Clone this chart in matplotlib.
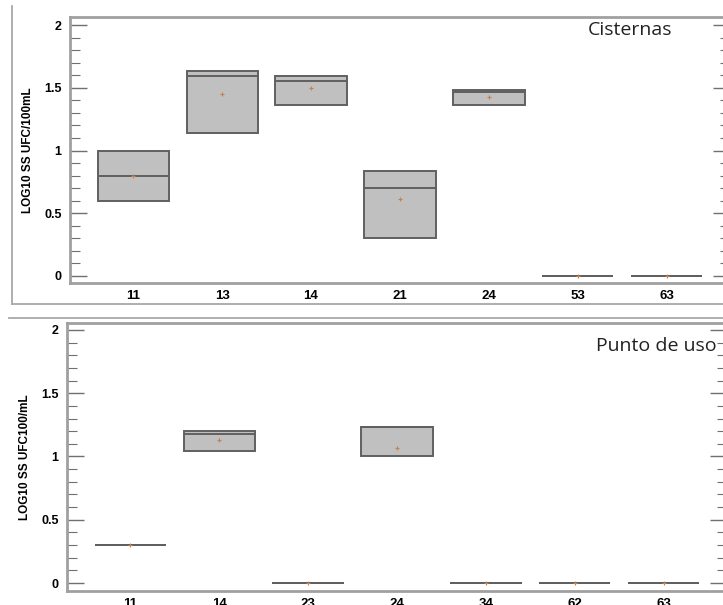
"""Two stacked box panels: LOG10 SS counts per site, Cisternas vs Punto de uso."""
import matplotlib
matplotlib.use('Agg')
import matplotlib.pyplot as plt
from matplotlib.lines import Line2D
from matplotlib.ticker import MultipleLocator, FuncFormatter

# --- data ---
top_labels = ['11', '13', '14', '21', '24', '53', '63']
top_q1 = [0.60, 1.14, 1.36, 0.30, 1.36, 0.0, 0.0]
top_q3 = [1.00, 1.63, 1.59, 0.84, 1.48, 0.0, 0.0]
top_med = [0.80, 1.59, 1.55, 0.70, 1.47, 0.0, 0.0]
top_mean = [0.80, 1.45, 1.50, 0.61, 1.43, 0.0, 0.0]

bot_labels = ['11', '14', '23', '24', '34', '62', '63']
bot_q1 = [0.30, 1.04, 0.0, 1.00, 0.0, 0.0, 0.0]
bot_q3 = [0.30, 1.20, 0.0, 1.23, 0.0, 0.0, 0.0]
bot_med = [0.30, 1.18, 0.0, 1.23, 0.0, 0.0, 0.0]
bot_mean = [0.30, 1.13, 0.0, 1.07, 0.0, 0.0, 0.0]

plt.rcParams['font.family'] = ['Liberation Sans', 'DejaVu Sans']

W, H = 723, 605
fig = plt.figure(figsize=(W / 100, H / 100), dpi=100)


def px_axes(left, top, right, bottom):
    return fig.add_axes([left / W, 1 - bottom / H, (right - left) / W, (bottom - top) / H])


def draw_panel(ax, labels, q1, q3, med, mean, ylabel, title, title_xy, ylim):
    stats = []
    for lab, a, b, m, mu in zip(labels, q1, q3, med, mean):
        stats.append(dict(label=lab, q1=a, q3=b, med=m, mean=mu, whislo=a, whishi=b, fliers=[]))
    ax.bxp(stats, positions=range(len(labels)), widths=0.8, patch_artist=True,
           showmeans=True, showcaps=False, showfliers=False,
           boxprops=dict(facecolor='#c0c0c0', edgecolor='#606060', linewidth=1.4),
           medianprops=dict(color='#606060', linewidth=1.4),
           whiskerprops=dict(linewidth=0),
           meanprops=dict(marker='+', markeredgecolor='#c8804a', markersize=3.5, markeredgewidth=0.8))
    ax.set_xlim(-0.71, len(labels) - 0.29)
    ax.set_ylim(*ylim)
    ax.yaxis.set_major_locator(MultipleLocator(0.5))
    ax.yaxis.set_minor_locator(MultipleLocator(0.1))
    ax.yaxis.set_major_formatter(FuncFormatter(lambda v, p: f'{v:g}'))
    ax.tick_params(axis='y', which='both', direction='in', right=True, color='#707070')
    ax.tick_params(axis='y', which='major', length=12, width=1, pad=6, labelsize=9)
    ax.tick_params(axis='y', which='minor', length=7, width=0.8)
    ax.tick_params(axis='x', length=0, pad=5, labelsize=9.5)
    for t in ax.get_xticklabels() + ax.get_yticklabels():
        t.set_fontweight('bold')
    for s in ax.spines.values():
        s.set_color('#a0a0a0')
        s.set_linewidth(2)
    ax.set_ylabel(ylabel, fontsize=8.5, fontweight='bold', labelpad=7)
    ax.text(title_xy[0], title_xy[1], title, transform=ax.transAxes, ha='right', va='center',
            fontsize=14, family=['Open Sans', 'DejaVu Sans'], color='#222222')


ax1 = px_axes(70, 17, 730, 283)
draw_panel(ax1, top_labels, top_q1, top_q3, top_med, top_mean,
           'LOG10 SS UFC/100mL', 'Cisternas', (0.913, 0.95), (-0.056, 2.064))

ax2 = px_axes(67, 323, 727, 591)
draw_panel(ax2, bot_labels, bot_q1, bot_q3, bot_med, bot_mean,
           'LOG10 SS UFC100/mL', 'Punto de uso', (0.985, 0.915), (-0.063, 2.055))

# screenshot frame lines around the panels
for xs, ys in [((12, 12), (6, 304)), ((12, 723), (304, 304)), ((9, 723), (318, 318))]:
    fig.add_artist(Line2D([x / W for x in xs], [1 - y / H for y in ys],
                          color='#a8a8a8', linewidth=1.3, transform=fig.transFigure))

fig.savefig('out.png', dpi=100)
plt.close(fig)
